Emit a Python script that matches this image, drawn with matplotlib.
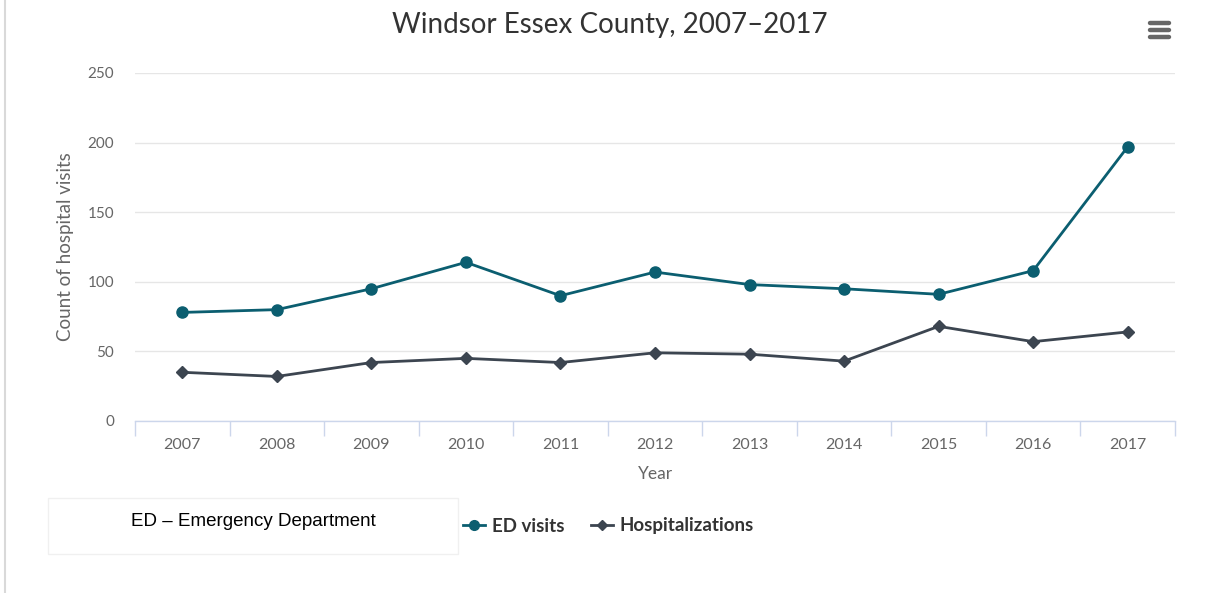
import matplotlib
matplotlib.use("Agg")
import matplotlib.pyplot as plt
from matplotlib.patches import Rectangle
from matplotlib.lines import Line2D

years = ["2007", "2008", "2009", "2010", "2011", "2012", "2013", "2014", "2015", "2016", "2017"]
ed_visits = [78, 80, 95, 114, 90, 107, 98, 95, 91, 108, 197]
hospitalizations = [35, 32, 42, 45, 42, 49, 48, 43, 68, 57, 64]
y_ticks = [0, 50, 100, 150, 200, 250]

ED_COLOR = "#0b5e70"
HOSP_COLOR = "#3c4550"
FONT = "Lato"

fig = plt.figure(figsize=(12.1, 5.93), dpi=100)
ax = fig.add_axes([135/1210, 1-421/593, 1040/1210, 348/593])

x = list(range(len(years)))
ax.plot(x, ed_visits, color=ED_COLOR, lw=2, marker="o", ms=8, zorder=3)
ax.plot(x, hospitalizations, color=HOSP_COLOR, lw=2, marker="D", ms=6, zorder=3)

ax.set_xlim(-0.5, len(years) - 0.5)
ax.set_ylim(0, 250)
ax.set_yticks(y_ticks)
ax.set_yticklabels([str(v) for v in y_ticks], fontfamily=FONT, fontsize=11, color="#666666")
ax.tick_params(axis="y", length=0, pad=15)
ax.grid(axis="y", color="#e6e6e6", lw=1)
ax.set_axisbelow(True)

ax.set_xticks(x)
ax.set_xticklabels(years, fontfamily=FONT, fontsize=11.5, color="#666666")
ax.tick_params(axis="x", length=0, pad=12)
ax.set_xticks([i - 0.5 for i in range(len(years) + 1)], minor=True)
ax.tick_params(axis="x", which="minor", length=11, color="#ccd6eb", width=1)

for s in ["top", "right", "left"]:
    ax.spines[s].set_visible(False)
ax.spines["bottom"].set_color("#ccd6eb")
ax.spines["bottom"].set_linewidth(1)

ax.set_xlabel("Year", fontfamily=FONT, fontsize=12.5, color="#666666", labelpad=10)
ax.set_ylabel("Count of hospital visits", fontfamily=FONT, fontsize=13.5, color="#666666", labelpad=10)

fig.text(610/1210, 1-25/593, "Windsor Essex County, 2007\u20132017", ha="center", va="center",
         fontfamily=FONT, fontsize=20, color="#333333")

# hamburger menu icon
for dy in (-7, 0, 7):
    fig.add_artist(Line2D([1150/1210, 1169/1210], [1-(30+dy)/593]*2, color="#666666", lw=3.2,
                          solid_capstyle="round", transform=fig.transFigure))

# left border line
fig.add_artist(Line2D([5/1210, 5/1210], [0, 1], color="#d9d9d9", lw=1.5, transform=fig.transFigure))

# note box
fig.add_artist(Rectangle((48/1210, 1-554/593), 410/1210, 56/593, transform=fig.transFigure,
                         facecolor="white", edgecolor="#f0f0f0", lw=1))
fig.text(253/1210, 1-521/593, "ED \u2013 Emergency Department", ha="center", va="center",
         fontfamily="Liberation Sans", fontsize=13.5, color="black")

handles = [
    Line2D([], [], color=ED_COLOR, lw=2, marker="o", ms=7),
    Line2D([], [], color=HOSP_COLOR, lw=2, marker="D", ms=5),
]
leg = fig.legend(handles, ["ED visits", "Hospitalizations"], loc="center left",
                 bbox_to_anchor=(446/1210, 1-526/593), ncol=2, frameon=False,
                 handlelength=1.2, handletextpad=0.35, columnspacing=1.4,
                 prop={"family": FONT, "weight": "bold", "size": 13.5})
for t in leg.get_texts():
    t.set_color("#333333")

fig.savefig("out.png", dpi=100, facecolor="white")
